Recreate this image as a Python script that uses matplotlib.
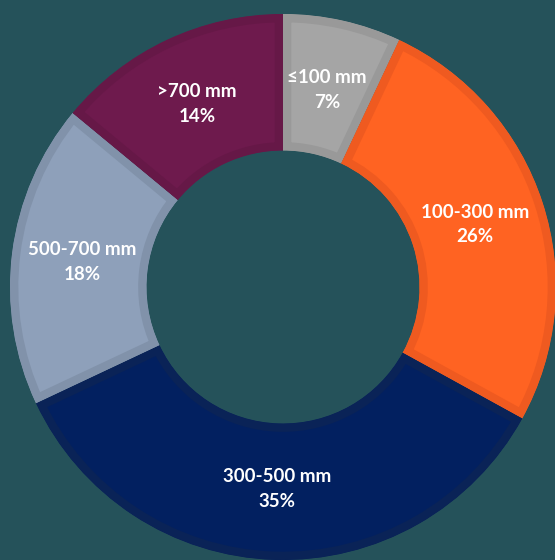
import matplotlib
matplotlib.use("Agg")
import matplotlib.pyplot as plt
import numpy as np

# Rainfall classes and share of area (%)
categories = ["≤100 mm", "100-300 mm", "300-500 mm", "500-700 mm", ">700 mm"]
shares = [7, 26, 35, 18, 14]
fills = ["#a5a5a5", "#ff6322", "#022060", "#8ea0ba", "#6e1a4d"]
borders = ["#999999", "#ef5a20", "#0a2357", "#8192aa", "#661847"]

BG = "#25525a"

fig = plt.figure(figsize=(5.55, 5.60), dpi=100)
fig.patch.set_facecolor(BG)
ax = fig.add_axes([10 / 555, 0, 546 / 555, 546 / 560])
ax.set_facecolor(BG)

wedges, _ = ax.pie(
    shares,
    startangle=90,
    counterclock=False,
    radius=1.0,
    colors=fills,
    wedgeprops=dict(width=0.5, linewidth=0),
)

# inner border: stroke clipped to the wedge itself so only the inside half shows
for w, ec in zip(wedges, borders):
    w.set_edgecolor(ec)
    w.set_linewidth(12)
    w.set_clip_on(True)
    w.set_clip_path(w)

# labels in the middle of the ring
for w, cat, val in zip(wedges, categories, shares):
    ang = np.deg2rad((w.theta1 + w.theta2) / 2)
    r = 0.74
    ax.text(r * np.cos(ang), r * np.sin(ang), f"{cat}\n{val}%",
            ha="center", va="center", color="white",
            fontsize=13.5, fontweight="bold", family=["Lato", "DejaVu Sans"],
            linespacing=1.55)

ax.set_xlim(-1, 1)
ax.set_ylim(-1, 1)
ax.set_aspect("equal")
ax.axis("off")

fig.savefig("out.png", dpi=100, facecolor=BG)
